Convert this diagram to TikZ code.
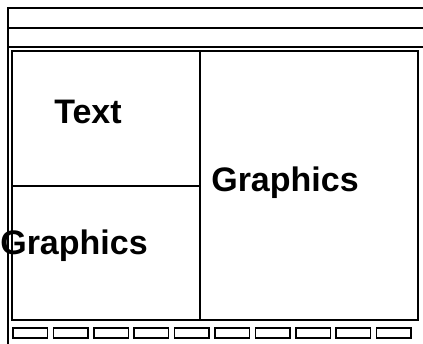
\documentclass[tikz,border=0pt]{standalone}
\usepackage{fontspec}
\setmainfont{Liberation Sans}

\begin{document}
\begin{tikzpicture}[x=1pt, y=-1pt,
		frame/.style={draw=black, line width=1.8pt},
		slot/.style={draw=black, line width=1.5pt},
		label/.style={font=\fontsize{34}{40}\selectfont\bfseries, inner sep=0pt}]
		\useasboundingbox[fill=white] (0,0) rectangle (423,344);

		% outer window frame and title bars
		\draw[frame] (8,344) -- (8,8) -- (423,8);
		\draw[frame] (8,28) -- (423,28);
		\draw[frame] (8,47) -- (423,47);

		% content area
		\draw[frame] (12,51) rectangle (418,320);
		\draw[frame] (200,51) -- (200,320);
		\draw[frame] (12,186) -- (200,186);

		\node[label] (textlbl) at (88,112) {Text};
		\node[label] (graphleft) at (74,246) {Graphics};
		\node[label] (graphright) at (285,183) {Graphics};

		% buttons along the bottom
		\foreach \i in {0,...,9}
			\draw[slot] ({13+40.4*\i},328) rectangle ++(34.5,10);
	\end{tikzpicture}
\end{document}
